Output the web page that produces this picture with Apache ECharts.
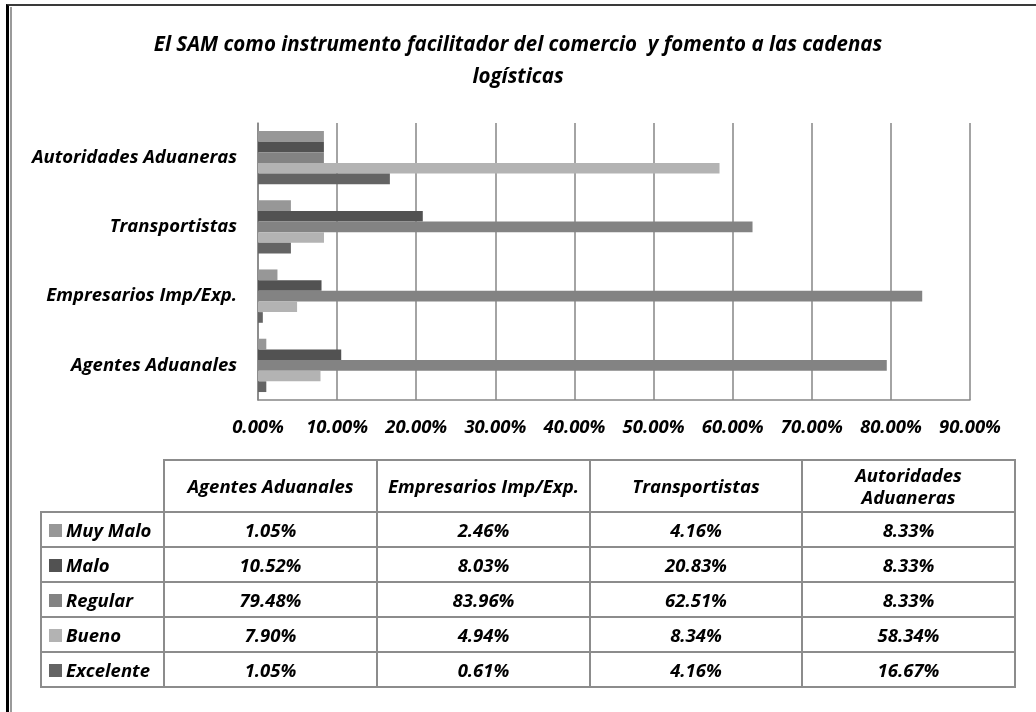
<!DOCTYPE html>
<html>
<head>
<meta charset="utf-8">
<script src="https://cdn.jsdelivr.net/npm/echarts@6/dist/echarts.min.js"></script>
<style>
  html, body { margin: 0; padding: 0; background: #fff; }
  body { width: 1036px; height: 712px; position: relative; overflow: hidden; }
  .frame-outer { position: absolute; left: 6px; top: 4px; width: 1100px; height: 800px;
    border-left: 3px solid #000; border-top: 2px solid #3a3a3a; }
  .frame-inner { position: absolute; left: 10px; top: 7px; width: 1100px; height: 800px;
    border-left: 2px solid #9a9a9a; }
  #chart { position: absolute; left: 0; top: 0; width: 1036px; height: 712px; }
  #tabla { position: absolute; left: 40px; top: 459px; border-collapse: collapse; table-layout: fixed; }
  #tabla td { border: 2px solid #8c8c8c; text-align: center; padding: 0; height: 33px; line-height: 22px;
    font-family: "Open Sans", sans-serif; font-weight: bold; font-style: italic; font-size: 18.5px; color: #000; }
  #tabla tr.cab td { height: 50px; line-height: 22px; }
  #tabla td.vacio { border: none; border-bottom: 2px solid #8c8c8c; }
  #tabla td.ley { text-align: left; padding-left: 7px; white-space: nowrap; }
  .cuadro { display: inline-block; width: 13px; height: 13px; margin-right: 4px; vertical-align: 0px; }
</style>
</head>
<body>
<div class="frame-outer"></div>
<div class="frame-inner"></div>
<div id="chart"></div>
<table id="tabla"></table>
<script>
// categorias (de abajo hacia arriba en el grafico)
var categorias = ['Agentes Aduanales', 'Empresarios Imp/Exp.', 'Transportistas', 'Autoridades Aduaneras']
var tickLabels = ['0.00%', '10.00%', '20.00%', '30.00%', '40.00%', '50.00%', '60.00%', '70.00%', '80.00%', '90.00%']

// valores en %
var muyMalo = [1.05, 2.46, 4.16, 8.33]
var malo = [10.52, 8.03, 20.83, 8.33]
var regular = [79.48, 83.96, 62.51, 8.33]
var bueno = [7.90, 4.94, 8.34, 58.34]
var excelente = [1.05, 0.61, 4.16, 16.67]

var nombres = ['Muy Malo', 'Malo', 'Regular', 'Bueno', 'Excelente']
var colores = ['#979797', '#525252', '#838383', '#b3b3b3', '#646464']
var datos = [muyMalo, malo, regular, bueno, excelente]

var fuente = '"Open Sans", sans-serif'

var series = []
for (var i = 0; i < nombres.length; i++) {
  series.push({
    name: nombres[i],
    type: 'bar',
    data: datos[i],
    barGap: '0%',
    barCategoryGap: '23%',
    itemStyle: { color: colores[i] },
    silent: true
  })
}

var myChart = echarts.init(document.getElementById('chart'))
myChart.setOption({
  animation: false,
  title: {
    text: 'El SAM como instrumento facilitador del comercio  y fomento a las cadenas\nlogísticas',
    left: 'center',
    top: 24,
    textStyle: {
      fontFamily: fuente,
      fontWeight: 'bold',
      fontStyle: 'italic',
      fontSize: 20.5,
      lineHeight: 32,
      color: '#000'
    }
  },
  grid: { left: 258, right: 66, top: 123, bottom: 312 },
  xAxis: {
    type: 'value',
    min: 0,
    max: 90,
    interval: 10,
    axisLine: { show: true, lineStyle: { color: '#868686', width: 1.5 } },
    axisTick: { show: false },
    splitLine: { show: true, lineStyle: { color: '#868686', width: 1.5 } },
    axisLabel: {
      margin: 18,
      formatter: function (v) { return tickLabels[Math.round(v / 10)] },
      fontFamily: fuente,
      fontWeight: 'bold',
      fontStyle: 'italic',
      fontSize: 18.5,
      color: '#000'
    }
  },
  yAxis: {
    type: 'category',
    data: categorias,
    axisLine: { show: true, lineStyle: { color: '#868686', width: 1.5 } },
    axisTick: { show: false },
    axisLabel: {
      margin: 21,
      fontFamily: fuente,
      fontWeight: 'bold',
      fontStyle: 'italic',
      fontSize: 18.5,
      color: '#000'
    }
  },
  series: series
})

// tabla de datos
var anchos = [123, 213, 213, 212, 213]
var cabeceras = ['Agentes Aduanales', 'Empresarios Imp/Exp.', 'Transportistas', 'Autoridades<br>Aduaneras']
var html = '<colgroup>'
for (var c = 0; c < anchos.length; c++) html += '<col style="width:' + anchos[c] + 'px">'
html += '</colgroup><tr class="cab"><td class="vacio"></td>'
for (var c = 0; c < cabeceras.length; c++) html += '<td>' + cabeceras[c] + '</td>'
html += '</tr>'
for (var s = 0; s < nombres.length; s++) {
  html += '<tr><td class="ley"><span class="cuadro" style="background:' + colores[s] + '"></span>' + nombres[s] + '</td>'
  for (var c = 0; c < categorias.length; c++) html += '<td>' + datos[s][c].toFixed(2) + '%</td>'
  html += '</tr>'
}
document.getElementById('tabla').innerHTML = html
</script>
</body>
</html>
